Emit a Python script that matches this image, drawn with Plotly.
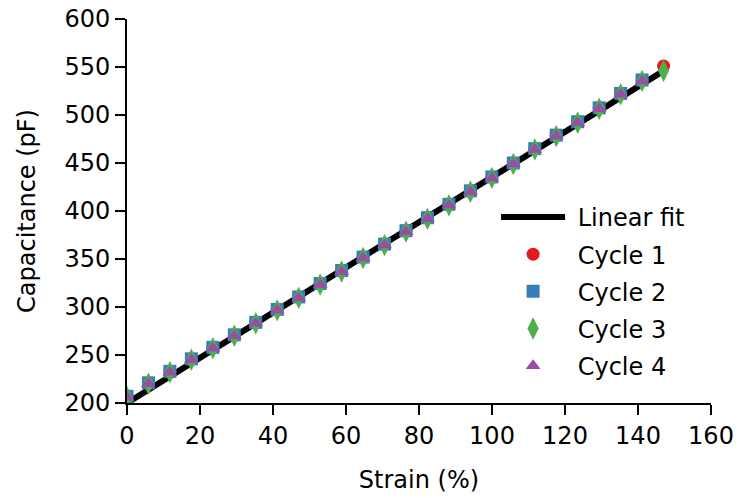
import plotly.graph_objects as go

# Strain steps (%) shared by all cycles
strain = [0, 5.88, 11.76, 17.64, 23.52, 29.4, 35.28, 41.16, 47.04, 52.92,
          58.8, 64.68, 70.56, 76.44, 82.32, 88.2, 94.08, 99.96, 105.84,
          111.72, 117.6, 123.48, 129.36, 135.24, 141.12, 147.0]

# Measured capacitance (pF) per loading cycle
cycle1 = [207, 221, 233, 246, 258, 271, 284, 297.5, 310.5, 324.5, 338, 352,
          365.5, 379.5, 393, 407, 421, 435.5, 450, 465, 479, 493, 507.5,
          522.5, 536.5, 551]
cycle2 = [207, 221, 233, 246, 258, 271, 284, 297.5, 310.5, 324.5, 338, 352,
          365.5, 379.5, 393, 407, 421, 435.5, 450, 465, 479, 493, 507.5,
          522.5, 536.5]
cycle3 = [206, 220, 232, 245, 257, 270, 283, 296.5, 309.5, 323.5, 337, 351,
          364.5, 378.5, 392, 406, 420, 434.5, 449, 464, 478, 492, 506.5,
          521.5, 535.5, 546]
cycle4 = [206, 220, 232, 245, 257, 270, 283, 296.5, 309.5, 323.5, 337, 351,
          364.5, 378.5, 392, 406, 420, 434.5, 449, 464, 478, 492, 506.5,
          521.5, 535.5]

# Linear fit end points
fit_x = [0, 147]
fit_y = [200, 546]

FONT = "DejaVu Sans"
FS = 24
PAD = "\u00a0"  # small gap between legend symbol and label

fig = go.Figure()
fig.add_trace(go.Scatter(x=fit_x, y=fit_y, mode="lines", name=PAD + "Linear fit",
                         legendgroup="fit",
                         line=dict(color="black", width=6)))
fig.add_trace(go.Scatter(x=strain[:len(cycle1)], y=cycle1, mode="markers",
                         name=PAD + "Cycle 1", legendgroup="c1",
                         marker=dict(symbol="circle", size=13, color="#e41a1c")))
fig.add_trace(go.Scatter(x=strain[:len(cycle2)], y=cycle2, mode="markers",
                         name=PAD + "Cycle 2", legendgroup="c2",
                         marker=dict(symbol="square", size=13, color="#377eb8")))
fig.add_trace(go.Scatter(x=strain[:len(cycle3)], y=cycle3, mode="markers",
                         name=PAD + "Cycle 3", legendgroup="c3",
                         marker=dict(symbol="diamond-tall", size=16, color="#4daf4a")))
fig.add_trace(go.Scatter(x=strain[:len(cycle4)], y=cycle4, mode="markers",
                         name=PAD + "Cycle 4", legendgroup="c4",
                         marker=dict(symbol="triangle-up", size=13, color="#984ea3")))

axis_common = dict(
    showgrid=False, zeroline=False, showline=True, linecolor="black",
    linewidth=2, ticks="outside", ticklen=10, tickwidth=2, tickcolor="black",
    tickfont=dict(family=FONT, size=FS, color="black"), automargin=False,
)

fig.update_layout(
    width=740, height=498,
    margin=dict(l=127, r=29, t=19, b=95),
    plot_bgcolor="white", paper_bgcolor="white",
    font=dict(family=FONT, size=FS, color="black"),
    xaxis=dict(range=[0, 160], tickvals=list(range(0, 161, 20)),
               title=dict(text="Strain (%)", font=dict(size=FS), standoff=22),
               **axis_common),
    yaxis=dict(range=[200, 600], tickvals=list(range(200, 601, 50)),
               title=dict(text="Capacitance (pF)", font=dict(size=FS), standoff=22),
               **axis_common),
    legend=dict(x=0.632, y=0.542, xanchor="left", yanchor="top",
                bgcolor="rgba(0,0,0,0)", font=dict(family=FONT, size=FS),
                itemwidth=64, tracegroupgap=3),
)

fig.write_html("out.html")
